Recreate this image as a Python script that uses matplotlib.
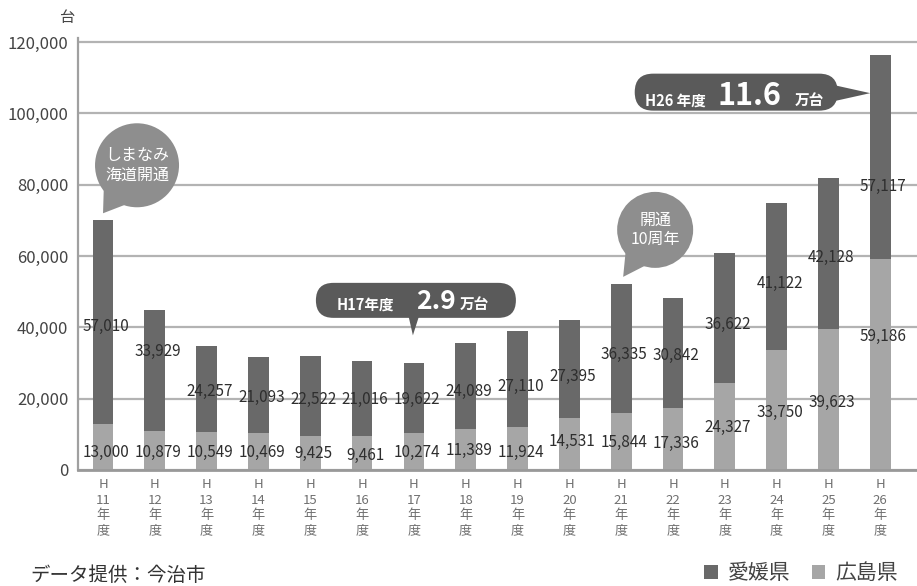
import numpy as np
import matplotlib
matplotlib.use("Agg")
import matplotlib.pyplot as plt
import matplotlib.patches as mpatches
import matplotlib.transforms as mtransforms

plt.rcParams['font.family'] = ['Noto Sans CJK JP', 'DejaVu Sans']

# data (台): 広島県 is the lower segment, 愛媛県 sits on top
years = ["11", "12", "13", "14", "15", "16", "17", "18",
         "19", "20", "21", "22", "23", "24", "25", "26"]
hiroshima = [13000, 10879, 10549, 10469, 9425, 9461, 10274, 11389,
             11924, 14531, 15844, 17336, 24327, 33750, 39623, 59186]
ehime = [57010, 33929, 24257, 21093, 22522, 21016, 19622, 24089,
         27110, 27395, 36335, 30842, 36622, 41122, 42128, 57117]
y_ticks = [0, 20000, 40000, 60000, 80000, 100000, 120000]

# where the printed numbers sit (data units), as laid out in the original
hiroshima_label_y = [5000, 5000, 5000, 4800, 4500, 4200, 5000, 5600,
                     5000, 8100, 7600, 7300, 11800, 16000, 18800, 37300]
ehime_label_y = [40100, 33100, 21900, 20200, 19800, 19800, 19800, 21900,
                 23300, 26100, 32500, 32000, 40700, 52400, 59700, 79600]

DARK = "#696969"
LIGHT = "#a6a6a6"
BUBBLE = "#8e8e8e"
BOX = "#5a5a5a"

x = np.arange(len(years))
total = np.array(hiroshima) + np.array(ehime)

fig = plt.figure(figsize=(9.17, 5.86), dpi=100)
ax = fig.add_axes([78 / 917, 116 / 586, 839 / 917, 121 * 3.567 / 586])

b_hiro = ax.bar(x, hiroshima, width=0.4, color=LIGHT, zorder=2)
b_ehime = ax.bar(x, ehime, width=0.4, bottom=hiroshima, color=DARK, zorder=2)

for i in x:
    ax.text(i + 0.06, hiroshima_label_y[i], f"{hiroshima[i]:,}", ha="center", va="center",
            fontsize=11, color="#2e2e2e", zorder=4)
    ax.text(i + 0.06, ehime_label_y[i], f"{ehime[i]:,}", ha="center", va="center",
            fontsize=11, color="#2e2e2e", zorder=4)

ax.set_xlim(-0.483, 15.71)
ax.set_ylim(0, 121000)
ax.set_yticks(y_ticks)
ax.yaxis.set_major_formatter(plt.FuncFormatter(lambda v, pos: f"{v:,.0f}"))
ax.set_xticks(x, [f"H\n{y}\n年\n度" for y in years])
ax.tick_params(axis="x", length=0, pad=6, labelsize=9.5, labelcolor="#707070")
ax.tick_params(axis="y", length=0, pad=7, labelsize=12, labelcolor="#444444")
for lbl in ax.get_xticklabels():
    lbl.set_linespacing(1.22)
ax.yaxis.grid(True, color="#b3b3b3", lw=1.6)
ax.set_axisbelow(True)
ax.spines[['right', 'top']].set_visible(False)
ax.spines['left'].set_color("#a0a0a0")
ax.spines['left'].set_linewidth(1.6)
ax.spines['bottom'].set_color("#999999")
ax.spines['bottom'].set_linewidth(2)

ax.annotate("台", xy=(0, 1), xycoords="axes fraction", xytext=(-3, 9),
            textcoords="offset points", ha="right", va="bottom",
            fontsize=11, color="#444444")


def at_bar(i):
    # offsets in pixels, measured from the top of bar i
    return mtransforms.IdentityTransform() + mtransforms.ScaledTranslation(
        x[i], total[i], ax.transData)


def round_bubble(i, cx, cy, r, tip, text):
    tr = at_bar(i)
    ang = np.arctan2(tip[1] - cy, tip[0] - cx)
    base = [(cx + r * np.cos(ang + s), cy + r * np.sin(ang + s)) for s in (-0.3, 0.3)]
    ax.add_patch(mpatches.Polygon([base[0], tip, base[1], (cx, cy)], closed=True,
                                  transform=tr, fc=BUBBLE, ec="none", clip_on=False, zorder=5))
    ax.add_patch(mpatches.Circle((cx, cy), r, transform=tr, fc=BUBBLE, ec="none",
                                 clip_on=False, zorder=5))
    ax.text(cx, cy, text, transform=tr, ha="center", va="center", color="white",
            fontsize=11.5, linespacing=1.2, zorder=6)


def pill(i, cx, cy, w, h, tail, parts, base):
    tr = at_bar(i)
    ax.add_patch(mpatches.Polygon(tail, closed=True, transform=tr, fc=BOX, ec="none",
                                  clip_on=False, zorder=5))
    ax.add_patch(mpatches.FancyBboxPatch((cx - w / 2, cy - h / 2), w, h,
                                         boxstyle=f"round,pad=0,rounding_size={h / 2}",
                                         transform=tr, fc=BOX, ec="none", clip_on=False, zorder=5))
    for dx, s, size in parts:
        ax.text(cx + dx, base, s, transform=tr, ha="center", va="baseline", color="white",
                fontsize=size, fontweight="bold", zorder=6)


round_bubble(0, 34, 55, 42, (0, 7), "しまなみ\n海道開通")
round_bubble(10, 34, 54, 38, (2, 7), "開通\n10周年")
pill(6, 2, 63, 200, 35, [(-6, 50), (6, 50), (-1, 28)],
     [(-50, "H17年度", 10.5), (20, "2.9", 19), (58, "万台", 10.5)], 54)
pill(15, -144, -37, 203, 37, [(-46, -30), (-46, -46), (-10, -38)],
     [(-61, "H26 年度", 10.5), (13, "11.6", 22), (73, "万台", 10.5)], -50)

fig.text(30 / 917, 1 - 575 / 586, "データ提供：今治市", fontsize=14, color="#333333",
         ha="left", va="center")
ax.legend([b_ehime, b_hiro], ["愛媛県", "広島県"], loc="center right",
          bbox_to_anchor=(1.0, 1 - 573 / 586), bbox_transform=fig.transFigure,
          ncol=2, frameon=False, fontsize=15, handlelength=0.65, handleheight=0.65,
          handletextpad=0.5, columnspacing=1.0, labelcolor="#444444")

fig.savefig("out.png", dpi=100)
